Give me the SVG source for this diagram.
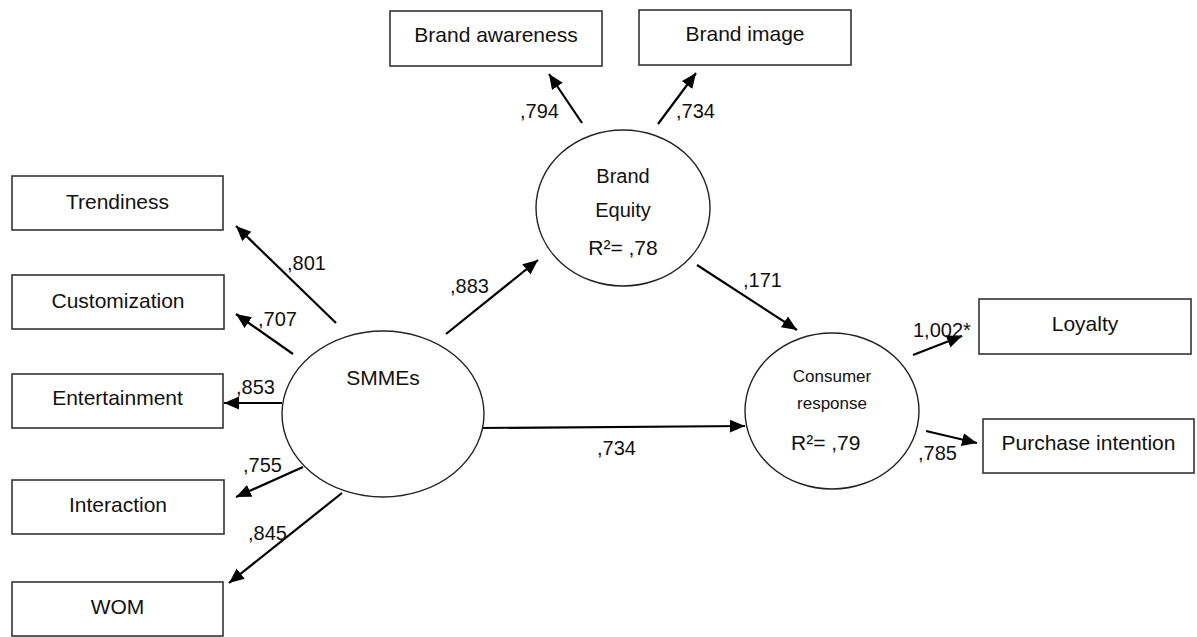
<svg xmlns="http://www.w3.org/2000/svg" width="1197" height="637" viewBox="0 0 1197 637">
<style>
.box{fill:#fff;stroke:#333;stroke-width:1.6}
.ell{fill:#fff;stroke:#222;stroke-width:1.4}
.t{font-family:"Liberation Sans",Arial,sans-serif;font-size:20px;fill:#111}
.b{font-size:21px}
.c{text-anchor:middle}
.s{font-size:17px}
.ln{stroke:#000;stroke-width:2.2;fill:none;marker-end:url(#ah)}
</style>
<defs>
<marker id="ah" markerUnits="userSpaceOnUse" markerWidth="16" markerHeight="14" refX="15" refY="6.5" orient="auto">
<path d="M0,0 L15,6.5 L0,13 z" fill="#000"/>
</marker>
</defs>
<rect width="1197" height="637" fill="#fff"/>

<g id="connectors">
<line class="ln" x1="336" y1="323" x2="236" y2="226"/>
<line class="ln" x1="293" y1="354" x2="236" y2="314"/>
<line class="ln" x1="282" y1="403" x2="224" y2="403"/>
<line class="ln" x1="303" y1="467" x2="236" y2="497"/>
<line class="ln" x1="342" y1="493" x2="229" y2="583"/>
<line class="ln" x1="582" y1="123" x2="549" y2="74"/>
<line class="ln" x1="658" y1="124" x2="696" y2="73"/>
<line class="ln" x1="446" y1="334" x2="538" y2="260"/>
<line class="ln" x1="697" y1="265" x2="797" y2="330"/>
<line class="ln" x1="478" y1="428" x2="745" y2="426"/>
<line class="ln" x1="913" y1="355" x2="962" y2="336"/>
<line class="ln" x1="926" y1="431" x2="977" y2="443"/>
<text class="t" x="287" y="270">,801</text>
<text class="t" x="258" y="326">,707</text>
<text class="t" x="236" y="394">,853</text>
<text class="t" x="243" y="472">,755</text>
<text class="t" x="248" y="540">,845</text>
<text class="t" x="520" y="118">,794</text>
<text class="t" x="676" y="118">,734</text>
<text class="t" x="450" y="293">,883</text>
<text class="t" x="743" y="287">,171</text>
<text class="t" x="597" y="455">,734</text>
<text class="t" x="913" y="337">1,002*</text>
<text class="t" x="918" y="460">,785</text>
</g>

<g id="trendiness"><rect class="box" x="12" y="176" width="211" height="54"/><text class="t b c" x="117.5" y="209">Trendiness</text></g>
<g id="customization"><rect class="box" x="12" y="275" width="212" height="54"/><text class="t b c" x="118" y="308">Customization</text></g>
<g id="entertainment"><rect class="box" x="12" y="374" width="211" height="54"/><text class="t b c" x="117.5" y="405">Entertainment</text></g>
<g id="interaction"><rect class="box" x="12" y="480" width="212" height="54"/><text class="t b c" x="118" y="512">Interaction</text></g>
<g id="wom"><rect class="box" x="12" y="582" width="211" height="54"/><text class="t b c" x="117.5" y="614">WOM</text></g>
<g id="brand-awareness"><rect class="box" x="390" y="11" width="212" height="55"/><text class="t b c" x="496" y="42">Brand awareness</text></g>
<g id="brand-image"><rect class="box" x="639" y="10" width="212" height="55"/><text class="t b c" x="745" y="41">Brand image</text></g>
<g id="loyalty"><rect class="box" x="979" y="299" width="212" height="55"/><text class="t b c" x="1085" y="331">Loyalty</text></g>
<g id="purchase-intention"><rect class="box" x="983" y="419" width="211" height="54"/><text class="t b c" x="1088.5" y="450">Purchase intention</text></g>

<g id="smmes"><ellipse class="ell" cx="383" cy="414" rx="101" ry="83"/><text class="t b c" x="383" y="385">SMMEs</text></g>
<g id="brand-equity"><ellipse class="ell" cx="623" cy="208" rx="87" ry="78"/>
<text class="t c" x="623" y="183">Brand</text>
<text class="t c" x="623" y="217">Equity</text>
<text class="t b c" x="623" y="255">R²= ,78</text></g>
<g id="consumer-response"><ellipse class="ell" cx="832" cy="411" rx="87" ry="78"/>
<text class="t c s" x="832" y="382">Consumer</text>
<text class="t c s" x="832" y="409">response</text>
<text class="t b" x="791" y="450">R²= ,79</text></g>
</svg>
